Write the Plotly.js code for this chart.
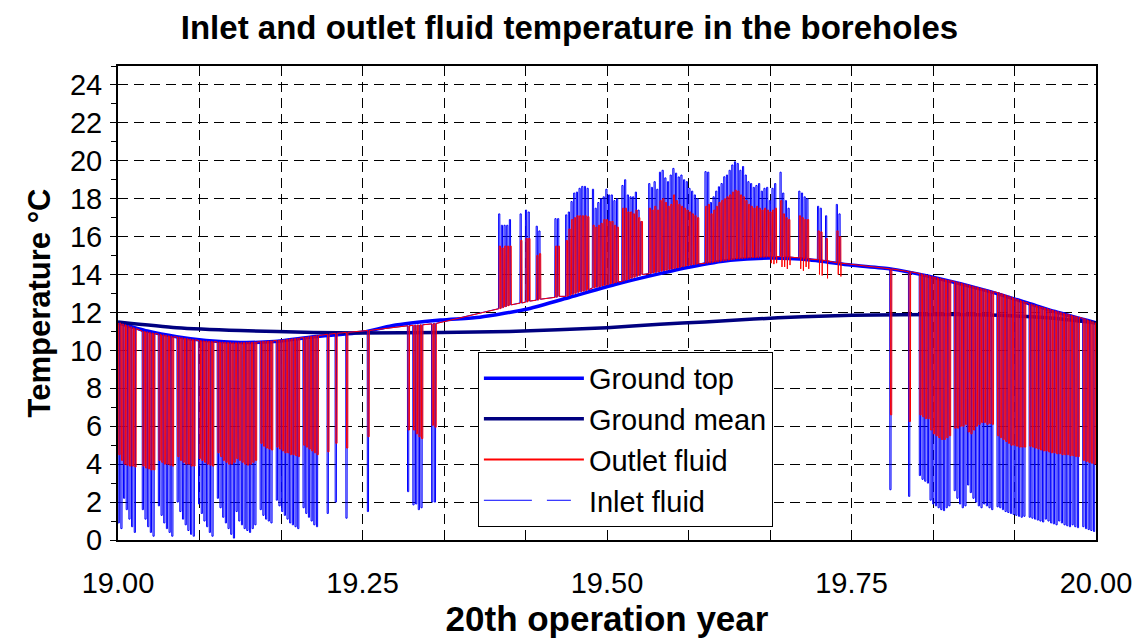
<!DOCTYPE html>
<html>
<head>
<meta charset="utf-8">
<script src="https://cdn.plot.ly/plotly-3.0.1.min.js"></script>
<style>html,body{margin:0;padding:0;background:#fff;}#chart{width:1139px;height:643px;}</style>
</head>
<body>
<div id="chart"></div>
<script>
// ---------- Ground temperatures (year, °C) ----------
const groundTopYear = [19.000,19.030,19.060,19.090,19.125,19.160,19.200,19.250,19.280,19.330,19.370,19.420,19.462,19.510,19.554,19.585,19.626,19.667,19.708,19.749,19.790,19.830,19.892,19.930,19.958,20.000];
const groundTop     = [11.45,11.02,10.72,10.52,10.42,10.47,10.72,10.95,11.30,11.60,11.75,12.20,12.80,13.50,14.05,14.40,14.75,14.87,14.77,14.50,14.30,13.90,13.10,12.50,12.05,11.45];
const groundMeanYear = [19.000,19.060,19.125,19.200,19.250,19.330,19.400,19.500,19.554,19.600,19.650,19.700,19.750,19.800,19.880,19.950,20.000];
const groundMean     = [11.50,11.20,11.05,10.95,10.92,10.95,11.00,11.20,11.38,11.50,11.65,11.78,11.85,11.88,11.88,11.72,11.45];

// ---------- Fluid operation days (day of the 20th year), start level, outlet and inlet extremes ----------
const winterDays = [0,1,2,3,4,5,6, 9,10,11,12,13, 15,16,17,18,19,20, 22,23,24,25,26,27,28, 30,31,32,33,34,35,
  37,38,39,40,41,42,43,44,45,46,47,48,49,50,51, 53,54,55,56,57, 59,60,61,62,63,64,65,66,67, 69,70,71,72,73,74,
  78,81,85, 93, 108,110,111,112,113,117,118];
const winterBase = [11.45,11.4,11.35,11.3,11.25,11.2,11.15, 11.0,10.98,10.95,10.92,10.9, 10.85,10.82,10.8,10.77,10.75,10.72,
  10.7,10.67,10.64,10.62,10.6,10.58,10.56, 10.52,10.5,10.49,10.48,10.47,10.46,
  10.44,10.43,10.42,10.41,10.41,10.4,10.4,10.4,10.4,10.41,10.41,10.42,10.42,10.43,10.44,
  10.46,10.47,10.48,10.49,10.5, 10.52,10.53,10.55,10.56,10.58,10.6,10.61,10.63,10.65, 10.68,10.7,10.72,10.74,10.76,10.78,
  10.85,10.9,10.95, 11.05, 11.3,11.32,11.33,11.34,11.35,11.4,11.42];
const winterOutlet = [4.5,4.2,4.0,3.95,3.9,3.9,3.85, 3.9,3.8,3.75,3.7,3.7, 4.2,4.1,4.0,4.0,3.95,3.9,
  4.4,4.2,4.1,4.0,4.0,3.9,3.9, 4.3,4.2,4.1,4.0,3.95,3.9,
  4.6,4.4,4.2,4.1,4.0,4.0,4.1,4.3,4.2,4.1,4.0,3.95,4.0,4.1,4.2,
  5.1,4.95,4.85,4.8,4.75, 4.9,4.8,4.7,4.6,4.6,4.5,4.5,4.45,4.4, 5.0,4.9,4.8,4.7,4.6,4.5,
  4.65,5.1,4.85, 5.45, 5.8,5.8,5.6,5.45,5.35,6.05,5.95];
const winterInlet = [0.9,0.6,2.2,1.6,1.1,0.7,0.4, 1.6,1.1,0.7,0.4,0.2, 1.8,1.3,0.9,0.6,0.4,0.2,
  2.0,1.5,1.1,0.8,0.5,0.3,0.2, 1.9,1.4,1.0,0.7,0.4,0.2,
  2.2,1.7,1.2,0.9,0.6,0.3,0.1,1.5,1.0,0.8,0.6,0.5,0.4,0.6,0.8,
  1.6,1.3,1.1,1.0,0.9, 2.1,1.8,1.5,1.3,1.1,0.9,0.8,0.7,0.6, 1.7,1.4,1.2,1.0,0.8,0.7,
  1.4,2.0,1.15, 1.5, 2.55,1.85,1.9,1.6,1.7,2.0,2.0];

const summerDays = [142,143,144,145,146, 150, 152,153, 156,157, 163,164,
  167,168,169,170,171,172,173,174,175, 177,178,179,180,181,182,183,184,185,186, 188,189,190,191,192,193,194,195,
  198,199,200,201,202,203,204,205,206,207,208,209,210,211,212,213,214,215,216,
  219,220,221,222,223,224,225,226,227,228,229,230,231,232,233,234,235,236,237,238,239,240,241,242,243,244,245,
  247,248,249,250, 254,255,256,257, 261,262, 264, 268,269];
const summerBase = [12.2,12.25,12.3,12.35,12.4, 12.5, 12.55,12.6, 12.65,12.7, 12.8,12.85,
  12.85,12.9,12.95,13.0,13.05,13.1,13.12,13.15,13.2, 13.3,13.33,13.36,13.4,13.43,13.46,13.5,13.53,13.56,13.6,
  13.65,13.7,13.75,13.8,13.85,13.9,13.95,14.0,
  14.05,14.08,14.11,14.14,14.17,14.2,14.23,14.26,14.29,14.32,14.35,14.38,14.41,14.44,14.47,14.5,14.52,14.54,14.56,
  14.6,14.62,14.64,14.66,14.68,14.7,14.72,14.74,14.76,14.78,14.8,14.82,14.84,14.85,14.86,14.87,14.88,14.89,14.9,14.9,14.91,14.92,14.92,14.93,14.93,14.94,14.94,
  14.95,14.95,14.93,14.92, 14.88,14.86,14.84,14.82, 14.78,14.76, 14.72, 14.62,14.6];
const summerOutlet = [15.5,15.4,15.5,15.5,15.5, 15.8, 15.9,15.9, 15.0,15.1, 15.5,15.5,
  15.8,16.4,16.9,17.0,17.1,17.1,17.1,17.1,17.05, 16.6,16.5,16.6,16.7,16.9,16.9,16.8,16.8,16.6,16.5,
  17.5,17.5,17.3,17.3,17.2,17.4,17.0,16.8,
  17.5,17.4,17.6,17.4,17.9,18.0,17.8,17.6,17.7,18.2,17.9,17.7,17.6,17.5,17.4,17.3,17.2,17.1,17.0,
  17.6,17.7,17.2,17.4,17.6,17.8,17.9,18.0,18.1,18.2,18.35,18.45,18.4,18.2,18.1,17.9,17.7,17.6,17.5,17.6,17.5,17.4,17.5,17.4,17.3,17.4,17.5,
  17.9,17.2,17.0,16.9, 17.1,17.0,16.9,16.9, 16.3,16.25, 15.9, 16.3,16.0];
const summerInlet = [17.2,16.6,16.6,16.6,16.9, 17.2, 17.4,17.3, 16.55,16.3, 16.95,16.95,
  17.15,17.3,17.85,18.3,18.35,18.55,18.65,18.65,18.55, 18.5,17.5,17.8,18.0,18.1,18.5,18.2,18.2,17.9,18.0,
  18.7,19.0,18.2,18.1,18.1,18.35,17.4,16.8,
  18.8,18.6,18.9,18.5,19.4,19.5,19.1,18.9,19.25,19.6,19.35,19.15,19.25,19.0,18.9,18.55,18.4,18.2,18.0,
  19.43,19.4,17.8,18.1,18.4,18.63,18.8,19.16,19.25,19.5,19.78,19.95,19.86,19.5,19.7,19.25,18.9,18.8,18.6,18.7,18.8,18.4,18.55,18.6,17.9,18.55,18.8,
  19.4,18.3,17.9,17.5, 18.4,18.3,18.1,18.0, 17.6,17.5, 17.1, 17.7,17.2];
// outlet undershoot below the ground level after late-summer runs
const dipDays   = [243,244,245,247,248,249,250,254,255,256,257,261,262,264,268,269];
const dipValues = [14.6,14.55,14.6,14.4,14.4,14.3,14.5,14.3,14.2,14.4,14.3,14.0,13.95,13.8,14.0,13.9];

const autumnDays = [288, 295, 299,300,301,302,303,304,305,306,307,308,309,310,
  312,313,314,315,316,317,318,319,320,321,322,323,324,325,326,
  328,329,330,331,332,333,334,335,336,337,338,
  340,341,342,343,344,345,346,347,348,349,350,351,352,353,354,355,356,357,358,
  360,361,362,363,364];
const autumnBase = [14.3, 14.15, 14.05,14.0,13.97,13.94,13.9,13.87,13.84,13.8,13.77,13.74,13.71,13.68,
  13.62,13.58,13.55,13.51,13.47,13.44,13.4,13.36,13.33,13.29,13.25,13.22,13.18,13.14,13.1,
  13.05,13.0,12.95,12.9,12.85,12.8,12.75,12.7,12.65,12.6,12.55,
  12.45,12.41,12.37,12.33,12.29,12.25,12.21,12.17,12.13,12.09,12.05,12.01,11.97,11.93,11.9,11.86,11.82,11.78,11.75,
  11.68,11.62,11.57,11.52,11.47];
const autumnOutlet = [6.6, 6.25, 6.6,6.5,6.4,6.4,5.8,5.6,5.5,5.4,5.3,5.3,5.4,5.5,
  5.9,5.9,6.0,6.0,6.1,5.7,5.6,5.8,6.0,6.1,6.2,6.2,6.1,6.15,6.1,
  5.5,5.4,5.3,5.2,5.1,5.0,5.0,4.95,4.9,4.9,4.9,
  4.95,4.9,4.85,4.8,4.75,4.7,4.7,4.65,4.6,4.6,4.55,4.55,4.5,4.5,4.5,4.45,4.45,4.4,4.4,
  4.2,4.15,4.1,4.05,4.0];
const autumnInlet = [2.65, 2.3, 3.4,3.2,3.1,3.0,2.1,1.9,1.8,1.7,1.6,1.55,1.7,1.8,
  2.6,2.2,1.9,1.7,1.8,2.9,2.5,2.2,2.0,1.8,1.7,1.9,1.8,1.7,1.6,
  1.75,1.7,1.6,1.5,1.45,1.4,1.35,1.3,1.25,1.2,1.25,
  1.2,1.15,1.1,1.05,1.0,0.95,1.1,1.0,0.9,0.85,0.8,1.0,0.9,0.8,0.75,0.7,0.8,0.7,0.65,
  0.7,0.6,0.55,0.5,0.45];

const xTickVals = [19.00, 19.25, 19.50, 19.75, 20.00];
const xTickText = ['19.00', '19.25', '19.50', '19.75', '20.00'];

// ---------- build fluid polylines from the per-day values ----------
const startYear = 19, daysPerYear = 365;
const opDays = winterDays.concat(summerDays, autumnDays);
const opBase = winterBase.concat(summerBase, autumnBase);
const opOutlet = winterOutlet.concat(summerOutlet, autumnOutlet);
const opInlet = winterInlet.concat(summerInlet, autumnInlet);

function dayToYear(d) { return startYear + d / daysPerYear; }

const inX = [], inY = [], outX = [], outY = [];
opDays.forEach((d, i) => {
  const b = opBase[i];
  [[0, b], [0.06, opInlet[i]], [0.5, opInlet[i]], [0.56, b]].forEach(p => { inX.push(dayToYear(d + p[0])); inY.push(p[1]); });
  const k = dipDays.indexOf(d);
  const pts = [[0.24, b], [0.29, opOutlet[i]], [0.76, opOutlet[i]]];
  if (k >= 0) { pts.push([0.8, dipValues[k]]); pts.push([0.86, b]); } else { pts.push([0.81, b]); }
  pts.forEach(p => { outX.push(dayToYear(d + p[0])); outY.push(p[1]); });
});

const FONT = 'Liberation Sans, Arial, Helvetica, sans-serif';

const traces = [
  { x: groundTopYear, y: groundTop, type: 'scatter', mode: 'lines', name: 'Ground top',
    line: { color: '#0000FF', width: 3.5, shape: 'spline', smoothing: 0.6 } },
  { x: groundMeanYear, y: groundMean, type: 'scatter', mode: 'lines', name: 'Ground mean',
    line: { color: '#000080', width: 3.5, shape: 'spline', smoothing: 0.6 } },
  { x: inX, y: inY, type: 'scatter', mode: 'lines', name: 'Inlet fluid', showlegend: false, legendgroup: 'inlet',
    line: { color: '#0000FF', width: 1.0 } },
  { x: outX, y: outY, type: 'scatter', mode: 'lines', name: 'Outlet fluid', showlegend: false, legendgroup: 'outlet',
    line: { color: '#FF0000', width: 1.0 } },
  { x: [null], y: [null], type: 'scatter', mode: 'lines', name: 'Outlet fluid', legendgroup: 'outlet',
    line: { color: '#FF0000', width: 2 } },
  { x: [null], y: [null], type: 'scatter', mode: 'lines', name: 'Inlet fluid', legendgroup: 'inlet',
    line: { color: '#0000FF', width: 1, dash: '48px,15px,24px,40px' } }
];

const layout = {
  width: 1139, height: 643,
  paper_bgcolor: '#fff', plot_bgcolor: '#fff',
  margin: { l: 118, r: 43, t: 66, b: 103 },
  font: { family: FONT, color: '#000' },
  title: { text: 'Inlet and outlet fluid temperature in the boreholes',
    font: { family: FONT, size: 33, weight: 'bold', color: '#000' },
    xref: 'container', x: 0.5, xanchor: 'center', yref: 'container', y: 0.957, yanchor: 'middle' },
  xaxis: {
    range: [19, 20], tickmode: 'array', tickvals: xTickVals, ticktext: xTickText,
    ticks: 'inside', ticklen: 10, tickcolor: '#000', tickwidth: 1,
    showline: true, linecolor: '#000', linewidth: 2, mirror: 'ticks',
    showgrid: true, gridcolor: '#000', gridwidth: 1, griddash: '10px,6px',
    zeroline: false,
    tickfont: { family: FONT, size: 29, color: '#000' }, ticklabelstandoff: 16,
    minor: { dtick: 1/12, tick0: 19, ticks: 'inside', ticklen: 10, tickcolor: '#000',
      showgrid: true, gridcolor: '#000', gridwidth: 1, griddash: '10px,6px' },
    title: { text: '20th operation year', font: { family: FONT, size: 35, weight: 'bold', color: '#000' }, standoff: 2 }
  },
  yaxis: {
    range: [0, 25], tickmode: 'linear', tick0: 0, dtick: 2,
    ticks: 'outside', ticklen: 6, tickcolor: '#000', tickwidth: 1,
    showline: true, linecolor: '#000', linewidth: 2, mirror: true,
    showgrid: true, gridcolor: '#000', gridwidth: 1, griddash: '10px,6px',
    zeroline: false,
    tickfont: { family: FONT, size: 29, color: '#000' }, ticklabelstandoff: 2,
    minor: { dtick: 1, tick0: 0, ticks: 'outside', ticklen: 5, tickcolor: '#000', showgrid: false },
    title: { text: 'Temperature °C', font: { family: FONT, size: 31, weight: 'bold', color: '#000' }, standoff: 10 }
  },
  showlegend: true,
  legend: {
    x: 0.368, y: 0.397, xanchor: 'left', yanchor: 'top',
    bgcolor: '#fff', bordercolor: '#000', borderwidth: 1,
    font: { family: FONT, size: 29, color: '#000' },
    itemwidth: 100, tracegroupgap: 0
  }
};

Plotly.newPlot('chart', traces, layout, { staticPlot: true, displayModeBar: false });
</script>
</body>
</html>
